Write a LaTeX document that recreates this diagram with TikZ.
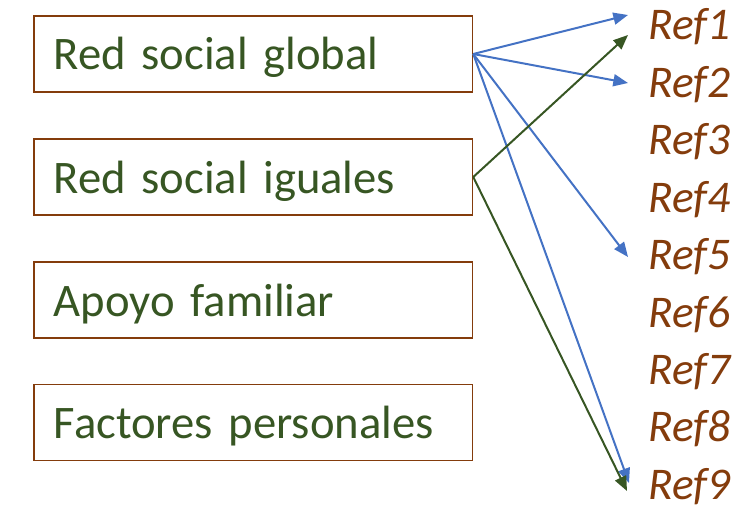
\documentclass[tikz,border=0pt]{standalone}
\usepackage{fontspec}
\setmainfont{Carlito}
\usetikzlibrary{arrows.meta}
\definecolor{boxbrown}{HTML}{843C0C}
\definecolor{txtgreen}{HTML}{375623}
\definecolor{arrblue}{HTML}{4472C4}
\tikzset{
  factor/.style={draw=boxbrown, line width=1.2pt, anchor=west, minimum width=329pt,
    minimum height=57pt, inner xsep=15pt, text width=299pt, align=left,
    text height=30pt, text depth=6pt,
    text=txtgreen, font=\fontsize{35}{40}\selectfont},
  refname/.style={anchor=base west, inner sep=0pt, text=boxbrown,
    font=\fontsize{34}{40}\selectfont\itshape},
  link/.style={line width=1.5pt, -{Triangle[length=11pt,width=9pt]}}
}
\begin{document}
\begin{tikzpicture}[x=0.75pt, y=-0.75pt]
  \useasboundingbox (0,0) rectangle (742,506);

  % Factors
  \node[factor] (global) at (33,54) {Red social global};
  \node[factor] (iguales) at (33,177) {Red social iguales};
  \node[factor] (apoyo) at (33,300) {Apoyo familiar};
  \node[factor] (personal) at (33,422.5) {Factores personales};

  % References
  \foreach \i in {1,...,9}
    \node[refname] (ref\i) at (648,{40+(\i-1)*57.4}) {Ref\i};

  % Arrow tips
  \coordinate (tip1b) at (628,15);
  \coordinate (tip1g) at (628,35);
  \coordinate (tip2b) at (628,83);
  \coordinate (tip5b) at (628,257);
  \coordinate (tip9b) at (629,483);
  \coordinate (tip9g) at (627,491);

  % Links
  \draw[link, arrblue] (global.east) -- (tip1b);
  \draw[link, arrblue] (global.east) -- (tip2b);
  \draw[link, arrblue] (global.east) -- (tip5b);
  \draw[link, arrblue] (global.east) -- (tip9b);
  \draw[link, txtgreen] (iguales.east) -- (tip1g);
  \draw[link, txtgreen] (iguales.east) -- (tip9g);
\end{tikzpicture}
\end{document}
